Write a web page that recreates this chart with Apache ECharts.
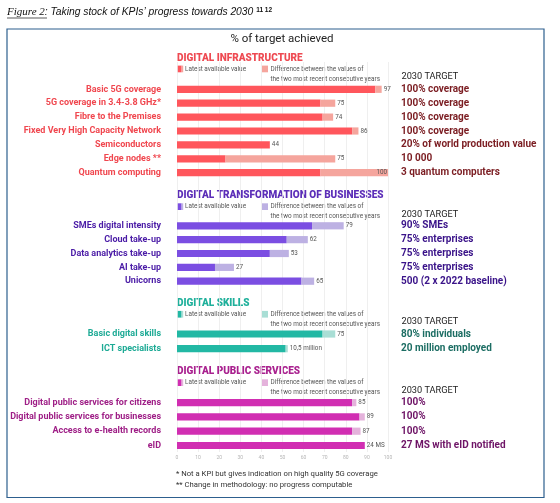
<!DOCTYPE html>
<html><head><meta charset="utf-8">
<script src="https://cdn.jsdelivr.net/npm/echarts@6/dist/echarts.min.js"></script>
<style>html,body{margin:0;padding:0;background:#fff}#c{width:560px;height:503px}</style>
</head><body><div id="c"></div>
<script>
// ---------- data ----------
const infraNames = ['Basic 5G coverage','5G coverage in 3.4-3.8 GHz*','Fibre to the Premises','Fixed Very High Capacity Network','Semiconductors','Edge nodes **','Quantum computing'];
const infraPrev = [94, 68, 69, 83, 44, 23, 68];
const infraLatest = [97, 75, 74, 86, 44, 75, 100];
const infraLabels = ['97','75','74','86','44','75','100'];
const infraTargets = ['100% coverage','100% coverage','100% coverage','100% coverage','20% of world production value','10 000','3 quantum computers'];

const bizNames = ['SMEs digital intensity','Cloud take-up','Data analytics take-up','AI take-up','Unicorns'];
const bizPrev = [64, 52, 44, 18, 59];
const bizLatest = [79, 62, 53, 27, 65];
const bizLabels = ['79','62','53','27','65'];
const bizTargets = ['90% SMEs','75% enterprises','75% enterprises','75% enterprises','500 (2 x 2022 baseline)'];

const skillNames = ['Basic digital skills','ICT specialists'];
const skillPrev = [69, 51.5];
const skillLatest = [75, 52.5];
const skillLabels = ['75','10,5 million'];
const skillTargets = ['80% individuals','20 million employed'];

const pubNames = ['Digital public services for citizens','Digital public services for businesses','Access to e-health records','eID'];
const pubPrev = [83, 86.5, 83, 89];
const pubLatest = [85, 89, 87, 89];
const pubLabels = ['85','89','87','24 MS'];
const pubTargets = ['100%','100%','100%','27 MS with eID notified'];

const sectionTitles = ['DIGITAL INFRASTRUCTURE','DIGITAL TRANSFORMATION OF BUSINESSES','DIGITAL SKILLS','DIGITAL PUBLIC SERVICES'];
const xTicks = [0,10,20,30,40,50,60,70,80,90,100];
// ---------- layout/styles ----------
const F = 'Roboto, "Noto Sans", sans-serif';
const sections = [
  {names:infraNames, prev:infraPrev, latest:infraLatest, labels:infraLabels, targets:infraTargets,
   first:89.3, step:13.9, titleY:58, c:{title:'#EE4A52',label:'#F0474F',dark:'#FF565C',light:'#F5A59D',target:'#7B1D22'}},
  {names:bizNames, prev:bizPrev, latest:bizLatest, labels:bizLabels, targets:bizTargets,
   first:225.8, step:13.85, titleY:195.7, c:{title:'#5C2EB8',label:'#4A1BA6',dark:'#7B4EE2',light:'#BDB1E3',target:'#3A1389'}},
  {names:skillNames, prev:skillPrev, latest:skillLatest, labels:skillLabels, targets:skillTargets,
   first:334, step:14.7, titleY:303.3, c:{title:'#1FB09B',label:'#1DAA95',dark:'#22B8A4',light:'#A9DED5',target:'#1C6D63'}},
  {names:pubNames, prev:pubPrev, latest:pubLatest, labels:pubLabels, targets:pubTargets,
   first:402.6, step:14.3, titleY:371.7, c:{title:'#A9218F',label:'#9E1E86',dark:'#D12EB2',light:'#E4B2DB',target:'#6E1466'}}
];
const L = 177, W = 211;
const grid = [{left:L, width:W, top:62, height:390}];
const xAxis = [{gridIndex:0, type:'value', min:0, max:100, interval:10,
  axisLine:{show:false}, axisTick:{show:false},
  splitLine:{show:true, lineStyle:{color:'#ebebeb', width:0.8}},
  axisLabel:{fontSize:5, color:'#b5b5b5', margin:3.5, fontFamily:F,
    formatter:v => xTicks.indexOf(v) >= 0 ? String(v) : ''}}];
const yAxis = [{gridIndex:0, type:'value', show:false, min:0, max:1}];
const series = [];
const graphic = [];

sections.forEach((s, i) => {
  const gi = i + 1;
  const n = s.names.length;
  grid.push({left:L, width:W, top:s.first - s.step/2, height:n*s.step});
  xAxis.push({gridIndex:gi, type:'value', min:0, max:100, show:false});
  const ly = yAxis.length;
  yAxis.push({gridIndex:gi, type:'category', inverse:true, data:s.names,
    axisLine:{show:false}, axisTick:{show:false}, splitLine:{show:false},
    axisLabel:{color:s.c.label, fontSize:9, fontWeight:'bold', margin:16, fontFamily:F}});
  yAxis.push({gridIndex:gi, type:'category', inverse:true, position:'right', data:s.targets,
    axisLine:{show:false}, axisTick:{show:false}, splitLine:{show:false},
    axisLabel:{color:s.c.target, fontSize:10, fontWeight:'bold', margin:13, align:'left', fontFamily:F}});
  series.push({type:'bar', name:'Latest available value', stack:'s'+i, xAxisIndex:gi, yAxisIndex:ly,
    barWidth:7.2, itemStyle:{color:s.c.dark}, data:s.prev, silent:true, animation:false});
  series.push({type:'bar', name:'Difference', stack:'s'+i, xAxisIndex:gi, yAxisIndex:ly,
    barWidth:7.2, itemStyle:{color:s.c.light}, silent:true, animation:false,
    data:s.latest.map((v, k) => {
      const d = {value: +(v - s.prev[k]).toFixed(2)};
      if (v >= 100) d.label = {position:'insideRight', distance:1};
      return d;
    }),
    label:{show:true, position:'right', distance:2, fontSize:6.3, color:'#555', fontFamily:F,
      formatter:p => s.labels[p.dataIndex]}});
  // section header graphics
  const ty = s.titleY;
  graphic.push({type:'text', style:{text:sectionTitles[i], x:L, y:ty, fill:s.c.title, font:'900 10px '+F, align:'left', verticalAlign:'middle'}});
  graphic.push({type:'rect', shape:{x:L, y:ty+7.6, width:4.6, height:6.7}, style:{fill:s.c.dark}});
  graphic.push({type:'rect', shape:{x:L+4.6, y:ty+7.6, width:1.6, height:6.7}, style:{fill:s.c.light}});
  graphic.push({type:'text', style:{text:'Latest available value', x:L+8, y:ty+11, fill:'#555', font:'6.4px '+F, align:'left', verticalAlign:'middle'}});
  graphic.push({type:'rect', shape:{x:L+85, y:ty+7.6, width:6, height:6.7}, style:{fill:s.c.light}});
  graphic.push({type:'text', style:{text:'Difference between the values of', x:L+93.5, y:ty+11, fill:'#555', font:'6.4px '+F, align:'left', verticalAlign:'middle'}});
  graphic.push({type:'text', style:{text:'the two most recent consecutive years', x:L+93.5, y:ty+21, fill:'#555', font:'6.4px '+F, align:'left', verticalAlign:'middle'}});
  graphic.push({type:'text', style:{text:'2030 TARGET', x:401.5, y:ty+18.5, fill:'#222', font:'9.2px '+F, align:'left', verticalAlign:'middle'}});
});

// frame and texts
graphic.push({type:'rect', shape:{x:7, y:29, width:537, height:468.5}, style:{fill:'none', stroke:'#2D5F8E', lineWidth:1.2}, z:-1});
graphic.push({type:'text', style:{
  rich:{a:{font:'italic 11px "Liberation Serif", serif', fill:'#111'}, b:{font:'italic 10.3px "Liberation Sans", sans-serif', fill:'#111'}, c:{font:'bold 6.5px "Liberation Sans", sans-serif', fill:'#111', padding:[0,0,5,0]}},
  text:'{a|Figure 2}{b|: Taking stock of KPIs\u2019 progress towards 2030 }{c|11 12}', x:7, y:12.5, verticalAlign:'middle'}});
graphic.push({type:'line', shape:{x1:7, y1:18, x2:47, y2:18}, style:{stroke:'#111', lineWidth:0.7}});
graphic.push({type:'text', style:{text:'% of target achieved', x:282, y:39.5, fill:'#222', font:'11.5px '+F, align:'center', verticalAlign:'middle'}});
graphic.push({type:'text', style:{text:'* Not a KPI but gives indication on high quality 5G coverage', x:176, y:474.3, fill:'#333', font:'7.7px '+F, align:'left', verticalAlign:'middle'}});
graphic.push({type:'text', style:{text:'** Change in methodology: no progress computable', x:176, y:484.6, fill:'#333', font:'7.7px '+F, align:'left', verticalAlign:'middle'}});

const chart = echarts.init(document.getElementById('c'), null, {renderer:'canvas'});
chart.setOption({animation:false, grid, xAxis, yAxis, series, graphic});
</script></body></html>
